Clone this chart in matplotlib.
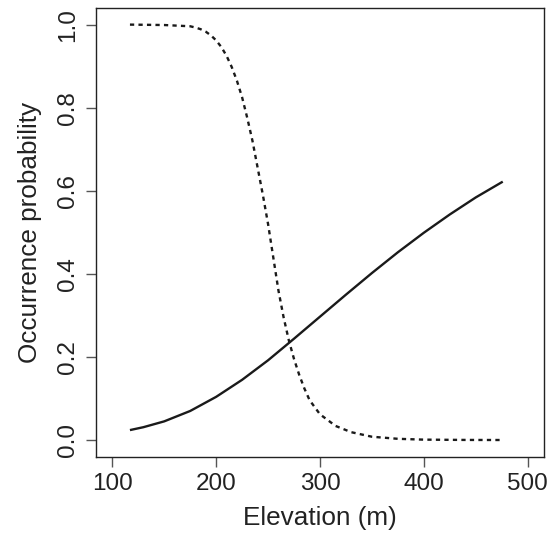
import matplotlib
matplotlib.use('Agg')
import matplotlib.pyplot as plt

# solid curve (increasing with elevation)
elev_up = [117, 130, 150, 175, 200, 225, 250, 275, 300, 325, 350, 375, 400, 425, 450, 476]
prob_up = [0.024, 0.031, 0.045, 0.070, 0.104, 0.145, 0.192, 0.244, 0.297, 0.350,
           0.402, 0.452, 0.499, 0.543, 0.584, 0.622]

# dashed curve (decreasing with elevation)
elev_down = [117, 150, 175, 180, 185, 190, 195, 200, 205, 210, 215, 220, 225, 230,
             235, 240, 245, 250, 255, 260, 265, 270, 275, 280, 285, 290, 300, 315,
             330, 350, 375, 400, 440, 476]
prob_down = [1.0, 0.999, 0.996, 0.993, 0.989, 0.983, 0.974, 0.962, 0.946, 0.925,
             0.898, 0.865, 0.825, 0.775, 0.72, 0.655, 0.59, 0.52, 0.44, 0.36,
             0.295, 0.24, 0.195, 0.157, 0.124, 0.096, 0.062, 0.034, 0.019, 0.008,
             0.003, 0.001, 0.0003, 0.0001]

xticks = [100, 200, 300, 400, 500]
yticks = [0.0, 0.2, 0.4, 0.6, 0.8, 1.0]

plt.rcParams['font.family'] = ['Liberation Sans', 'DejaVu Sans']
txt = '#222222'

fig = plt.figure(figsize=(5.55, 5.33), dpi=100)
ax = fig.add_axes([0.1724, 0.1432, 0.8083, 0.8418])

ax.plot(elev_up, prob_up, color='#1a1a1a', lw=1.7, solid_capstyle='butt')
ax.plot(elev_down, prob_down, color='#1a1a1a', lw=1.7, linestyle=(0, (1.8, 1.8)))

ax.set_xlim(84, 516)
ax.set_ylim(-0.04, 1.04)
ax.set_xticks(xticks)
ax.set_xticklabels([str(v) for v in xticks])
ax.set_yticks(yticks)
ax.set_yticklabels([f'{v:.1f}' for v in yticks], rotation=90, va='center')

ax.tick_params(direction='out', length=7, width=1, color='#555555',
               labelsize=17.5, labelcolor=txt)
ax.tick_params(axis='x', pad=5)
ax.tick_params(axis='y', pad=5)
for s in ax.spines.values():
    s.set_color('#222222')
    s.set_linewidth(1)

ax.set_xlabel('Elevation (m)', fontsize=18.8, color=txt, labelpad=8)
ax.set_ylabel('Occurrence probability', fontsize=18.8, color=txt, labelpad=11)

fig.savefig('out.png', dpi=100)
